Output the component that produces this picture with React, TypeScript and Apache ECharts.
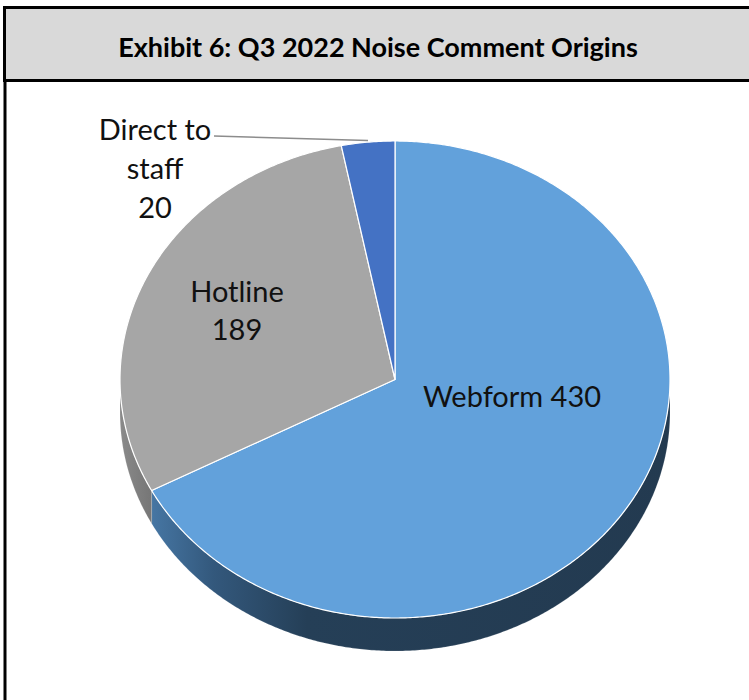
import React, { useEffect, useRef } from 'react';
import * as echarts from 'echarts';

const categories = ['Webform', 'Hotline', 'Direct to staff'];
const values = [430, 189, 20];
const labelTexts = ['Webform 430', 'Hotline\n189', 'Direct to\nstaff\n20'];
const titleText = 'Exhibit 6: Q3 2022 Noise Comment Origins';

const topColors = ['#62a1db', '#a6a6a6', '#4472c4'];

const CX = 395;
const CY = 379.5;
const RX = 275;
const RY = 238.5;
const DEPTH = 33;

const total = values.reduce((a, b) => a + b, 0);
const starts: number[] = [];
{
  let acc = 0;
  for (const v of values) {
    starts.push((acc / total) * 360);
    acc += v;
  }
}

function pt(deg: number, dy = 0): number[] {
  const t = (deg * Math.PI) / 180;
  return [CX + RX * Math.sin(t), CY - RY * Math.cos(t) + dy];
}

function arcPts(a0: number, a1: number, dy = 0): number[][] {
  const pts: number[][] = [];
  const n = Math.max(2, Math.ceil(Math.abs(a1 - a0) / 0.5));
  for (let i = 0; i <= n; i++) {
    pts.push(pt(a0 + ((a1 - a0) * i) / n, dy));
  }
  return pts;
}

const sideFills: any[] = [
  new echarts.graphic.LinearGradient(0, 0, 1, 0, [
    { offset: 0, color: '#4676a3' },
    { offset: 0.12, color: '#33587c' },
    { offset: 0.3, color: '#253f57' },
    { offset: 1, color: '#233a50' },
  ]),
  new echarts.graphic.LinearGradient(0, 0, 1, 0, [
    { offset: 0, color: '#8a8a8a' },
    { offset: 1, color: '#767676' },
  ]),
  '#2f5597',
];

export default function App() {
  const ref = useRef<HTMLDivElement>(null);
  useEffect(() => {
    document.body.style.margin = '0';
    const chart = echarts.init(ref.current!, null, { renderer: 'svg' });
    const seriesData = values.map((v, i) => ({ value: v, name: categories[i] }));
    chart.setOption({
      animation: false,
      backgroundColor: '#ffffff',
      graphic: [
        {
          type: 'rect',
          z: 1,
          shape: { x: 4.5, y: 7.5, width: 760, height: 73 },
          style: { fill: '#d9d9d9', stroke: '#000000', lineWidth: 3 },
        },
        {
          type: 'line',
          z: 1,
          shape: { x1: 5, y1: 80, x2: 5, y2: 710 },
          style: { stroke: '#000000', lineWidth: 3 },
        },
        {
          type: 'text',
          z: 10,
          x: 378,
          y: 46,
          style: {
            text: titleText,
            fill: '#000000',
            font: 'bold 27px Lato',
            align: 'center',
            verticalAlign: 'middle',
          },
        },
        {
          type: 'line',
          z: 10,
          shape: { x1: 214, y1: 136, x2: 368, y2: 140.5 },
          style: { stroke: '#8c8c8c', lineWidth: 1.5 },
        },
        {
          type: 'text',
          z: 10,
          x: 512,
          y: 395,
          style: {
            text: labelTexts[0],
            fill: '#111111',
            font: '29px Lato',
            align: 'center',
            verticalAlign: 'middle',
          },
        },
        {
          type: 'text',
          z: 10,
          x: 237,
          y: 309,
          style: {
            text: labelTexts[1],
            fill: '#111111',
            font: '29px Lato',
            lineHeight: 38,
            align: 'center',
            verticalAlign: 'middle',
          },
        },
        {
          type: 'text',
          z: 10,
          x: 155,
          y: 167,
          style: {
            text: labelTexts[2],
            fill: '#111111',
            font: '29px Lato',
            lineHeight: 39,
            align: 'center',
            verticalAlign: 'middle',
          },
        },
      ],
      series: [
        {
          type: 'custom',
          name: 'side',
          coordinateSystem: 'none',
          z: 2,
          data: seriesData,
          renderItem: (params: any, api: any) => {
            const i = params.dataIndex;
            const a0 = starts[i];
            const a1 = a0 + (api.value(0) / total) * 360;
            const s = Math.max(a0, 90);
            const e = Math.min(a1, 270);
            if (e <= s) return { type: 'group', children: [] };
            const top = arcPts(s, e, 0);
            const bottom = arcPts(e, s, DEPTH);
            return {
              type: 'polygon',
              shape: { points: top.concat(bottom) },
              style: { fill: sideFills[i], stroke: 'rgba(255,255,255,0.25)', lineWidth: 0.6 },
            };
          },
        },
        {
          type: 'custom',
          name: categories.join(','),
          coordinateSystem: 'none',
          z: 3,
          data: seriesData,
          renderItem: (params: any, api: any) => {
            const i = params.dataIndex;
            const a0 = starts[i];
            const a1 = a0 + (api.value(0) / total) * 360;
            const pts = [[CX, CY]].concat(arcPts(a0, a1, 0));
            return {
              type: 'polygon',
              shape: { points: pts },
              style: { fill: topColors[i], stroke: '#ffffff', lineWidth: 1.2, lineJoin: 'round' },
            };
          },
        },
      ],
    });
    return () => chart.dispose();
  }, []);
  return (
    <div
      ref={ref}
      style={{ position: 'fixed', left: 0, top: 0, width: 749, height: 700 }}
    />
  );
}
